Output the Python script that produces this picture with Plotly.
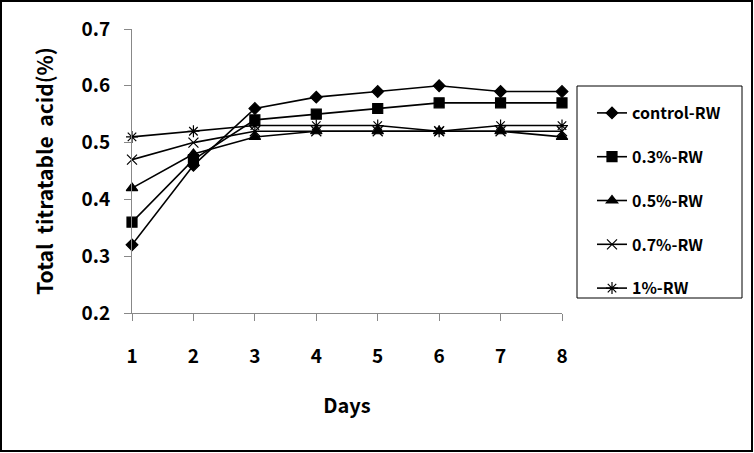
import plotly.graph_objects as go

days = [1, 2, 3, 4, 5, 6, 7, 8]
control_rw = [0.32, 0.46, 0.56, 0.58, 0.59, 0.60, 0.59, 0.59]
rw_03 = [0.36, 0.47, 0.54, 0.55, 0.56, 0.57, 0.57, 0.57]
rw_05 = [0.42, 0.48, 0.51, 0.52, 0.52, 0.52, 0.52, 0.51]
rw_07 = [0.47, 0.50, 0.52, 0.52, 0.52, 0.52, 0.52, 0.52]
rw_1 = [0.51, 0.52, 0.53, 0.53, 0.53, 0.52, 0.53, 0.53]

series = [
    ("control-RW", control_rw, "diamond", 9),
    ("0.3%-RW", rw_03, "square", 10),
    ("0.5%-RW", rw_05, "triangle-up", 10),
    ("0.7%-RW", rw_07, "x-thin-open", 10),
    ("1%-RW", rw_1, "asterisk-open", 10),
]

FONT = "Noto Sans CJK KR"
fig = go.Figure()
for i, (name, vals, sym, sz) in enumerate(series):
    fig.add_trace(go.Scatter(
        x=days, y=vals, name=name, mode="lines+markers",
        line=dict(color="black", width=1.6),
        marker=dict(symbol=sym, size=sz, color="black",
                    line=dict(color="black", width=1.2)),
        cliponaxis=False, legendgroup=f"g{i}",
    ))

fig.update_layout(
    width=754, height=453,
    margin=dict(l=132, r=192, t=29, b=140),
    paper_bgcolor="white", plot_bgcolor="white",
    font=dict(family=FONT, color="black", size=16, weight="bold"),
    showlegend=True,
    legend=dict(
        x=(592 - 132) / 430, y=(313 - 96) / 284, xanchor="left", yanchor="top",
        bgcolor="rgba(0,0,0,0)", borderwidth=0,
        font=dict(family=FONT, size=16, weight="bold", color="black"),
        tracegroupgap=20, traceorder="grouped",
    ),
    xaxis=dict(
        range=[1, 8], tickvals=days, showgrid=False, zeroline=False,
        showline=True, linecolor="#888888", linewidth=1,
        ticks="outside", ticklen=7, tickcolor="#888888",
        ticklabelstandoff=19,
        tickfont=dict(family=FONT, size=19, weight="bold"),
        title=dict(text="Days", standoff=32,
                   font=dict(family=FONT, size=20, weight="bold")),
    ),
    yaxis=dict(
        range=[0.2, 0.7], dtick=0.1, tickformat=".1f", showgrid=False, zeroline=False,
        showline=True, linecolor="#888888", linewidth=1,
        ticks="outside", ticklen=7, tickcolor="#888888",
        ticklabelstandoff=10,
        tickfont=dict(family=FONT, size=19, weight="bold"),
        title=dict(text="Total\u00a0\u00a0titratable\u00a0\u00a0acid(%)", standoff=22,
                   font=dict(family=FONT, size=21, weight="bold")),
    ),
    shapes=[
        dict(type="rect", xref="paper", yref="paper", xsizemode="pixel", ysizemode="pixel",
             xanchor=0, yanchor=0, x0=-131, x1=620, y0=-138, y1=312,
             line=dict(color="black", width=2), fillcolor="rgba(0,0,0,0)", layer="below"),
        dict(type="rect", xref="paper", yref="paper", xsizemode="pixel", ysizemode="pixel",
             xanchor=0, yanchor=0, x0=445, x1=610, y0=15, y1=227,
             line=dict(color="black", width=1), fillcolor="rgba(0,0,0,0)", layer="below"),
    ],
)

fig.write_html("out.html", config={"displayModeBar": False},
               post_script="document.body.style.margin='0';")
